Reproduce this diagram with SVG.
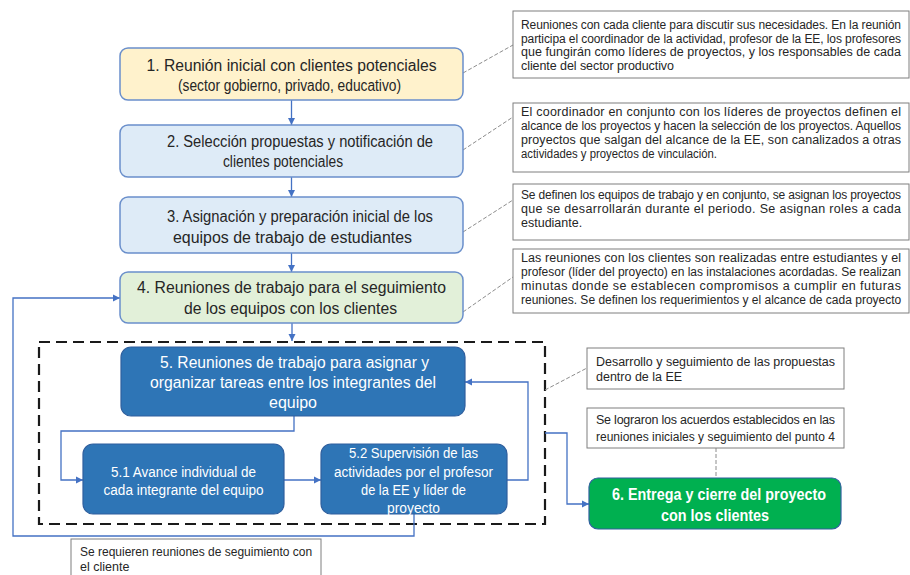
<svg xmlns="http://www.w3.org/2000/svg" width="910" height="575" viewBox="0 0 910 575">
<defs>
<marker id="arr" markerWidth="8" markerHeight="8" refX="7" refY="4" orient="auto" markerUnits="userSpaceOnUse">
<path d="M0,0.5 L7,4 L0,7.5 Z" fill="#4472C4"/>
</marker>
<style>
.bg{fill:#ffffff}
.n{stroke:#6A8FCB;stroke-width:1.5}
.dk{fill:#2E75B6;stroke:#2F5F9E;stroke-width:1.2}
.t{font-family:"Liberation Sans",Arial,sans-serif;font-size:16px;fill:#262626;text-anchor:middle}
.tw{font-family:"Liberation Sans",Arial,sans-serif;fill:#ffffff;text-anchor:middle}
.c{font-family:"Liberation Sans",Arial,sans-serif;font-size:12.5px;fill:#262626}
.s{font-size:12px}
.box{fill:#ffffff;stroke:#7F7F7F;stroke-width:1}
.con{fill:none;stroke:#4472C4;stroke-width:1.3}
.call{fill:none;stroke:#8C8C8C;stroke-width:1;stroke-dasharray:4,2}
</style>
</defs>
<rect class="bg" x="0" y="0" width="910" height="575"/>

<g id="dashed-frame">
<rect x="39" y="342" width="506" height="182" fill="none" stroke="#1A1A1A" stroke-width="2.2" stroke-dasharray="11,6"/>
</g>

<g id="connectors">
<line class="con" x1="291.5" y1="100" x2="291.5" y2="125" marker-end="url(#arr)"/>
<line class="con" x1="291.5" y1="177" x2="291.5" y2="197" marker-end="url(#arr)"/>
<line class="con" x1="291.5" y1="253" x2="291.5" y2="272" marker-end="url(#arr)"/>
<line class="con" x1="292" y1="323" x2="292" y2="341" marker-end="url(#arr)"/>
<polyline class="con" points="294,416 294,431 61,431 61,480 83,480" marker-end="url(#arr)"/>
<line class="con" x1="284" y1="480" x2="321" y2="480" marker-end="url(#arr)"/>
<polyline class="con" points="507,480 528,480 528,382 465,382" marker-end="url(#arr)"/>
<polyline class="con" points="414,514 414,536 13,536 13,298 120,298" marker-end="url(#arr)"/>
<polyline class="con" points="545,433 567,433 567,504 589,504" marker-end="url(#arr)"/>
<line class="call" x1="463" y1="73" x2="513" y2="45"/>
<line class="call" x1="463" y1="150" x2="513" y2="117"/>
<line class="call" x1="463" y1="232" x2="513" y2="200"/>
<line class="call" x1="463" y1="312" x2="513" y2="277"/>
<line class="call" x1="545" y1="390" x2="587" y2="368"/>
<line class="call" x1="716" y1="448" x2="716" y2="478"/>
</g>

<g id="node1">
<rect class="n" x="120" y="48" width="343" height="52" rx="8" fill="#FFF2CC"/>
<text class="t" x="291.5" y="71" textLength="290" lengthAdjust="spacingAndGlyphs">1. Reunión inicial con clientes potenciales</text>
<text class="t" x="289.5" y="91" textLength="223" lengthAdjust="spacingAndGlyphs">(sector gobierno, privado, educativo)</text>
</g>

<g id="node2">
<rect class="n" x="120" y="125" width="343" height="52" rx="8" fill="#DEEBF7"/>
<text class="t" x="300" y="147" textLength="266" lengthAdjust="spacingAndGlyphs">2. Selección propuestas y notificación de</text>
<text class="t" x="283" y="167" textLength="120" lengthAdjust="spacingAndGlyphs">clientes potenciales</text>
</g>

<g id="node3">
<rect class="n" x="120" y="197" width="343" height="56" rx="8" fill="#DEEBF7"/>
<text class="t" x="300" y="222" textLength="266" lengthAdjust="spacingAndGlyphs">3. Asignación y preparación inicial de los</text>
<text class="t" x="292.5" y="243" textLength="239" lengthAdjust="spacingAndGlyphs">equipos de trabajo de estudiantes</text>
</g>

<g id="node4">
<rect class="n" x="120" y="272" width="343" height="51" rx="8" fill="#E2F0D9"/>
<text class="t" x="291.5" y="293" textLength="309" lengthAdjust="spacingAndGlyphs">4. Reuniones de trabajo para el seguimiento</text>
<text class="t" x="290.5" y="314" textLength="213" lengthAdjust="spacingAndGlyphs">de los equipos con los clientes</text>
</g>

<g id="node5">
<rect class="dk" x="121" y="347" width="344" height="69" rx="10"/>
<text class="tw" font-size="16" x="294.5" y="368" textLength="269" lengthAdjust="spacingAndGlyphs">5. Reuniones de trabajo para asignar y</text>
<text class="tw" font-size="16" x="293" y="388" textLength="286" lengthAdjust="spacingAndGlyphs">organizar tareas entre los integrantes del</text>
<text class="tw" font-size="16" x="293" y="408" textLength="48" lengthAdjust="spacingAndGlyphs">equipo</text>
</g>

<g id="node5-1">
<rect class="dk" x="83" y="444" width="201" height="70" rx="10"/>
<text class="tw" font-size="14" x="183.5" y="477" textLength="145" lengthAdjust="spacingAndGlyphs">5.1 Avance individual de</text>
<text class="tw" font-size="14" x="183.5" y="495" textLength="160" lengthAdjust="spacingAndGlyphs">cada integrante del equipo</text>
</g>

<g id="node5-2">
<rect class="dk" x="321" y="444" width="186" height="70" rx="10"/>
<text class="tw" font-size="14" x="413.5" y="458" textLength="129" lengthAdjust="spacingAndGlyphs">5.2 Supervisión de las</text>
<text class="tw" font-size="14" x="413.5" y="477" textLength="159" lengthAdjust="spacingAndGlyphs">actividades por el profesor</text>
<text class="tw" font-size="14" x="413.5" y="495" textLength="105" lengthAdjust="spacingAndGlyphs">de la EE y líder de</text>
<text class="tw" font-size="14" x="413.5" y="513" textLength="53" lengthAdjust="spacingAndGlyphs">proyecto</text>
</g>

<g id="node6">
<rect x="589" y="478" width="252" height="51" rx="9" fill="#00B050" stroke="#2F5F9E" stroke-width="1.2"/>
<text class="tw" font-size="17" font-weight="bold" x="719" y="500" textLength="214" lengthAdjust="spacingAndGlyphs">6. Entrega y cierre del proyecto</text>
<text class="tw" font-size="17" font-weight="bold" x="715" y="521" textLength="108" lengthAdjust="spacingAndGlyphs">con los clientes</text>
</g>

<g id="note1">
<rect class="box" x="513" y="11" width="396" height="67"/>
<text class="c s" x="521" y="29" textLength="380" lengthAdjust="spacing">Reuniones con cada cliente para discutir sus necesidades. En la reunión</text>
<text class="c s" x="521" y="42.5" textLength="380" lengthAdjust="spacing">participa el coordinador de la actividad, profesor de la EE, los profesores</text>
<text class="c" x="521" y="56" textLength="380" lengthAdjust="spacing">que fungirán como líderes de proyectos, y los responsables de cada</text>
<text class="c" x="521" y="69.5" textLength="153" lengthAdjust="spacing">cliente del sector productivo</text>
</g>

<g id="note2">
<rect class="box" x="513" y="103" width="396" height="69"/>
<text class="c" x="521" y="116" textLength="380" lengthAdjust="spacing">El coordinador en conjunto con los líderes de proyectos definen el</text>
<text class="c s" x="521" y="130" textLength="380" lengthAdjust="spacing">alcance de los proyectos y hacen la selección de los proyectos. Aquellos</text>
<text class="c" x="521" y="144" textLength="380" lengthAdjust="spacing">proyectos que salgan del alcance de la EE, son canalizados a otras</text>
<text class="c" x="521" y="158" textLength="196" lengthAdjust="spacingAndGlyphs">actividades y proyectos de vinculación.</text>
</g>

<g id="note3">
<rect class="box" x="513" y="184" width="396" height="56"/>
<text class="c s" x="521" y="199" textLength="380" lengthAdjust="spacing">Se definen los equipos de trabajo y en conjunto, se asignan los proyectos</text>
<text class="c" x="521" y="213" textLength="380" lengthAdjust="spacing">que se desarrollarán durante el periodo. Se asignan roles a cada</text>
<text class="c" x="521" y="227">estudiante.</text>
</g>

<g id="note4">
<rect class="box" x="513" y="249" width="396" height="64"/>
<text class="c" x="521" y="262" textLength="380" lengthAdjust="spacing">Las reuniones con los clientes son realizadas entre estudiantes y el</text>
<text class="c s" x="521" y="276" textLength="380" lengthAdjust="spacing">profesor (líder del proyecto) en las instalaciones acordadas. Se realizan</text>
<text class="c" x="521" y="290" textLength="380" lengthAdjust="spacing">minutas donde se establecen compromisos a cumplir en futuras</text>
<text class="c s" x="521" y="304">reuniones. Se definen los requerimientos y el alcance de cada proyecto</text>
</g>

<g id="note5">
<rect class="box" x="587" y="348" width="257" height="41"/>
<text class="c" x="596" y="366" textLength="239" lengthAdjust="spacing">Desarrollo y seguimiento de las propuestas</text>
<text class="c" x="596" y="381">dentro de la EE</text>
</g>

<g id="note6">
<rect class="box" x="587" y="408" width="257" height="40"/>
<text class="c" x="596" y="424" textLength="239" lengthAdjust="spacing">Se lograron los acuerdos establecidos en las</text>
<text class="c s" x="596" y="441">reuniones iniciales y seguimiento del punto 4</text>
</g>

<g id="note7">
<rect class="box" x="71" y="539" width="250" height="45"/>
<text class="c s" x="80" y="556">Se requieren reuniones de seguimiento con</text>
<text class="c" x="80" y="571">el cliente</text>
</g>
</svg>
